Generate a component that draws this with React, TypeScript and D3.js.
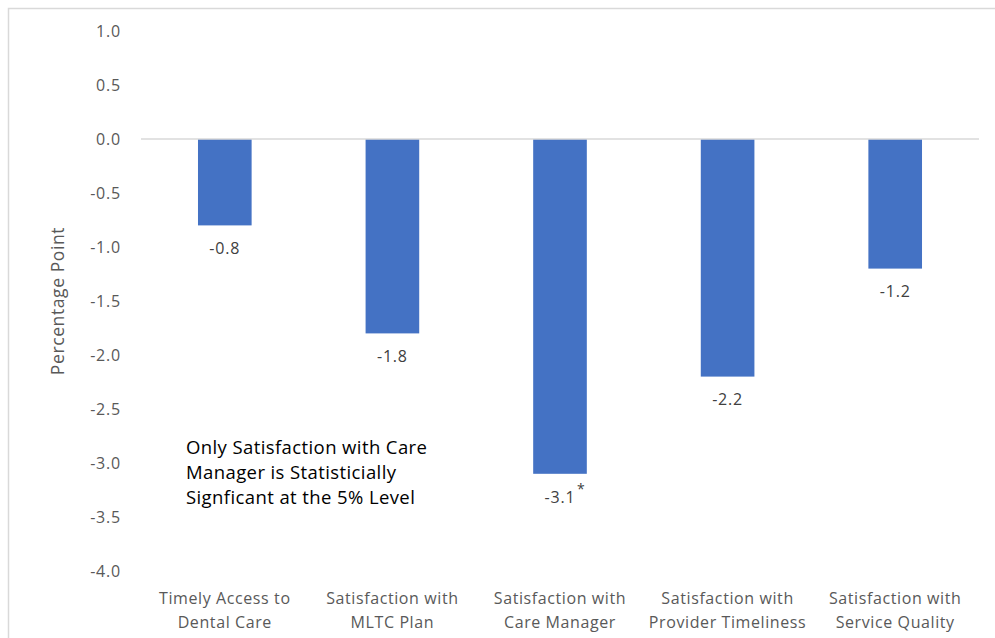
import React from "react";
import * as d3 from "d3";

const categories = [
  ["Timely Access to", "Dental Care"],
  ["Satisfaction with", "MLTC Plan"],
  ["Satisfaction with", "Care Manager"],
  ["Satisfaction with", "Provider Timeliness"],
  ["Satisfaction with", "Service Quality"],
];
const values = [-0.8, -1.8, -3.1, -2.2, -1.2];
const significant = [false, false, true, false, false];
const yTicks = [1.0, 0.5, 0.0, -0.5, -1.0, -1.5, -2.0, -2.5, -3.0, -3.5, -4.0];
const note = [
  "Only Satisfaction with Care",
  "Manager is Statisticially",
  "Signficant at the 5% Level",
];

const W = 995;
const H = 638;
const font = "'Open Sans', sans-serif";

export default function App() {
  const y = d3.scaleLinear().domain([-4, 1]).range([571, 31]);
  const x = d3
    .scaleBand<number>()
    .domain(d3.range(values.length))
    .range([141, 979])
    .paddingInner(0.68)
    .paddingOuter(0.34);

  return (
    <svg
      width={W}
      height={H}
      style={{ position: "absolute", left: 0, top: 0, background: "#fff" }}
      fontFamily={font}
    >
      <rect x={8.5} y={8.5} width={1000} height={700} fill="#fff" stroke="#d9d9d9" strokeWidth={1.5} />

      {/* y ticks */}
      {yTicks.map((t) => (
        <text
          key={t}
          x={121}
          y={y(t)}
          dy="0.36em"
          textAnchor="end"
          fontSize={16}
          fill="#595959"
          letterSpacing={0.8}
        >
          {t.toFixed(1)}
        </text>
      ))}

      <text
        transform={`translate(58,${(y(1) + y(-4)) / 2}) rotate(-90)`}
        textAnchor="middle"
        dy="0.36em"
        fontSize={17.5}
        fill="#595959"
        letterSpacing={0.6}
      >
        Percentage Point
      </text>

      {/* bars */}
      {values.map((v, i) => (
        <rect
          key={i}
          x={x(i)}
          y={y(0)}
          width={x.bandwidth()}
          height={y(v) - y(0)}
          fill="#4472C4"
        />
      ))}

      <line x1={141} x2={979} y1={y(0)} y2={y(0)} stroke="#d9d9d9" strokeWidth={1.5} />

      {/* value labels */}
      {values.map((v, i) => {
        const cx = x(i)! + x.bandwidth() / 2;
        return (
          <g key={i}>
            <text
              x={cx}
              y={y(v) + 23}
              dy="0.36em"
              textAnchor="middle"
              fontSize={16}
              fill="#404040"
              letterSpacing={0.8}
            >
              {v.toFixed(1)}
            </text>
            {significant[i] && (
              <text x={cx + 17} y={y(v) + 20} fontSize={14} fill="#404040">
                *
              </text>
            )}
          </g>
        );
      })}

      {/* category labels */}
      {categories.map((lines, i) => {
        const cx = x(i)! + x.bandwidth() / 2;
        return (
          <text key={i} textAnchor="middle" fontSize={16} fill="#595959" letterSpacing={0.6}>
            {lines.map((l, j) => (
              <tspan key={j} x={cx} y={598 + j * 24} dy="0.36em">
                {l}
              </tspan>
            ))}
          </text>
        );
      })}

      {/* annotation */}
      <text fontSize={18.5} fill="#000" letterSpacing={0.4}>
        {note.map((l, j) => (
          <tspan key={j} x={186} y={447 + j * 25} dy="0.36em">
            {l}
          </tspan>
        ))}
      </text>
    </svg>
  );
}
